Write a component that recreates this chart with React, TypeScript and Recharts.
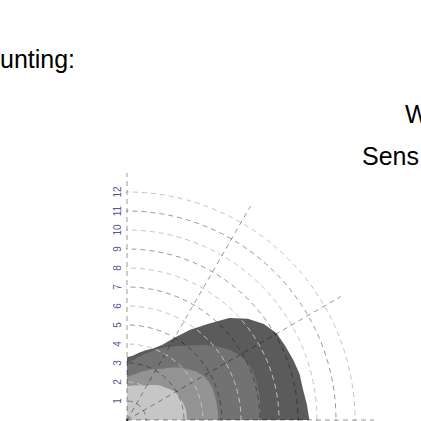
import { PolarAngleAxis, PolarGrid, PolarRadiusAxis, Radar, RadarChart } from "recharts";

// directions in degrees, counter-clockwise from east; 180 closes the shapes at the centre
const directions = [0, 5, 10, 15, 20, 25, 30, 35, 40, 45, 50, 55, 60, 65, 70, 75, 80, 85, 90, 180];

// outer edge of each grey band, in ring units
const outerBand = [9.6, 9.5, 9.4, 9.4, 9.3, 9.2, 9.1, 8.8, 8.3, 7.6, 6.6, 5.8, 5.0, 4.35, 4.0, 3.8, 3.6, 3.4, 3.3, 0];
const secondBand = [7.05, 7.05, 7.1, 7.1, 7.1, 7.05, 6.85, 6.5, 6.05, 5.6, 5.1, 4.75, 4.45, 4.15, 3.85, 3.6, 3.35, 3.15, 3.0, 0];
const thirdBand = [4.8, 4.8, 4.8, 4.8, 4.8, 4.75, 4.65, 4.45, 4.15, 3.9, 3.6, 3.3, 3.1, 2.95, 2.75, 2.6, 2.45, 2.35, 2.25, 0];
const innerBand = [3.15, 3.15, 3.15, 3.1, 3.05, 3.0, 2.95, 2.8, 2.65, 2.55, 2.4, 2.25, 2.1, 2.0, 1.95, 1.9, 1.85, 1.8, 1.8, 0];

const ringTicks = [1, 2, 3, 4, 5, 6, 7, 8, 9, 10, 11, 12];
const oddRings = [1, 3, 5, 7, 9, 11];
const evenRings = [2, 4, 6, 8, 10, 12];
const spokes = [0, 30, 60, 90, 120, 150, 180, 210, 240, 270, 300, 330];

const rows = directions.map((deg, i) => ({
  deg,
  b1: outerBand[i],
  b2: secondBand[i],
  b3: thirdBand[i],
  b4: innerBand[i],
}));

const RING_DOMAIN: [number, number] = [0, 12.8];
const textFont = "'Liberation Sans', Arial, sans-serif";

const chartProps = {
  width: 421,
  height: 421,
  data: rows,
  cx: 127,
  cy: 420,
  outerRadius: 247,
  startAngle: 0,
  endAngle: 360,
  margin: { top: 0, right: 0, bottom: 0, left: 0 },
};

function RingLabel(props: any) {
  const { x, y, payload } = props;
  const tx = x - 10;
  return (
    <text
      x={tx}
      y={y}
      transform={`rotate(-90, ${tx}, ${y})`}
      textAnchor="middle"
      dominantBaseline="central"
      fontSize={10}
      fontFamily={textFont}
      fill="#55559a"
    >
      {payload.value}
    </text>
  );
}

function AngleAxis() {
  return (
    <PolarAngleAxis
      dataKey="deg"
      type="number"
      domain={[0, 360]}
      ticks={spokes}
      tick={false}
      axisLine={false}
      tickLine={false}
      allowDataOverflow
    />
  );
}

export default function App() {
  return (
    <div
      style={{
        position: "fixed",
        left: 0,
        top: 0,
        width: 421,
        height: 421,
        overflow: "hidden",
        background: "#fff",
        fontFamily: textFont,
      }}
    >
      <div style={{ position: "absolute", left: 0, top: 47, fontSize: 25, lineHeight: "25px", whiteSpace: "nowrap" }}>
        unting:
      </div>
      <div style={{ position: "absolute", left: 405, top: 102, fontSize: 25, lineHeight: "25px", whiteSpace: "nowrap" }}>
        W
      </div>
      <div style={{ position: "absolute", left: 362, top: 144, fontSize: 25, lineHeight: "25px", whiteSpace: "nowrap" }}>
        Sens
      </div>

      {/* bands and grid, only the quadrant right of the ring axis */}
      <div style={{ position: "absolute", left: 0, top: 0, clipPath: "inset(0 0 0 126px)" }}>
        <RadarChart {...chartProps}>
          {AngleAxis()}
          <PolarRadiusAxis
            angle={90}
            type="number"
            domain={RING_DOMAIN}
            ticks={ringTicks}
            tick={false}
            axisLine={false}
            tickLine={false}
            allowDataOverflow
          />
          <PolarRadiusAxis
            radiusAxisId="odd"
            angle={90}
            type="number"
            domain={RING_DOMAIN}
            ticks={oddRings}
            tick={false}
            axisLine={false}
            tickLine={false}
            allowDataOverflow
          />
          <PolarRadiusAxis
            radiusAxisId="even"
            angle={90}
            type="number"
            domain={RING_DOMAIN}
            ticks={evenRings}
            tick={false}
            axisLine={false}
            tickLine={false}
            allowDataOverflow
          />
          <Radar dataKey="b1" fill="#5b5b5b" fillOpacity={1} stroke="none" isAnimationActive={false} />
          <Radar dataKey="b2" fill="#727272" fillOpacity={1} stroke="none" isAnimationActive={false} />
          <Radar dataKey="b3" fill="#939393" fillOpacity={1} stroke="none" isAnimationActive={false} />
          <Radar dataKey="b4" fill="#c6c6c6" fillOpacity={1} stroke="none" isAnimationActive={false} />
          <PolarGrid
            radiusAxisId="even"
            gridType="circle"
            radialLines={false}
            stroke="#c4c4c4"
            strokeDasharray="5 4"
            zIndex={500}
          />
          <PolarGrid
            radiusAxisId="odd"
            gridType="circle"
            stroke="#000"
            strokeOpacity={0.4}
            strokeDasharray="5 4"
            zIndex={500}
          />
        </RadarChart>
      </div>

      {/* ring labels along the vertical axis */}
      <div style={{ position: "absolute", left: 0, top: 0 }}>
        <RadarChart {...chartProps}>
          {AngleAxis()}
          <PolarRadiusAxis
            angle={90}
            type="number"
            domain={RING_DOMAIN}
            ticks={ringTicks}
            tick={RingLabel}
            axisLine={false}
            tickLine={false}
            allowDataOverflow
          />
        </RadarChart>
      </div>
    </div>
  );
}
